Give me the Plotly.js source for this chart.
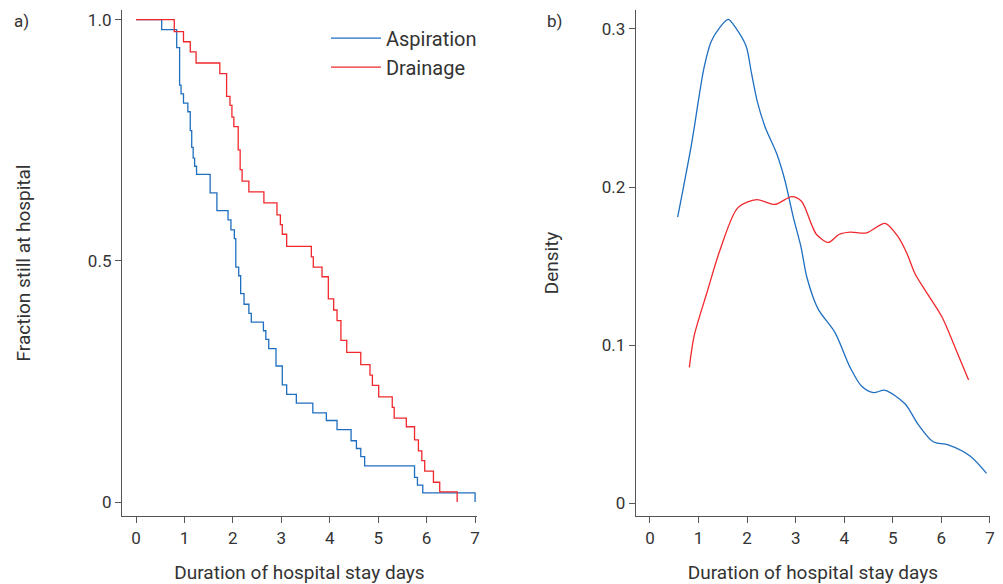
<!DOCTYPE html>
<html><head><meta charset="utf-8">
<script src="https://cdn.plot.ly/plotly-3.0.1.min.js"></script>
<style>body{margin:0}#c{width:1003px;height:584px}</style></head>
<body><div id="c"></div>
<script>
const aspTimes=[0,0.53,0.84,0.90,0.93,0.98,1.07,1.12,1.15,1.18,1.21,1.25,1.53,1.67,1.90,1.96,2.03,2.06,2.12,2.16,2.23,2.33,2.38,2.63,2.68,2.74,2.89,3.02,3.11,3.31,3.65,3.93,4.15,4.44,4.55,4.64,4.72,5.75,5.81,5.92,7.0];
const aspSurv=[1.0,0.979,0.942,0.864,0.846,0.827,0.809,0.770,0.735,0.713,0.696,0.679,0.641,0.604,0.585,0.564,0.546,0.487,0.469,0.432,0.410,0.391,0.373,0.355,0.337,0.318,0.282,0.243,0.223,0.205,0.185,0.169,0.150,0.127,0.111,0.094,0.075,0.051,0.035,0.019,0];
const drnTimes=[0,0.79,0.98,1.12,1.24,1.73,1.87,1.94,1.98,2.02,2.11,2.15,2.19,2.33,2.64,2.91,2.98,3.02,3.11,3.62,3.66,3.84,3.97,4.08,4.15,4.23,4.35,4.64,4.83,4.88,5.01,5.29,5.33,5.58,5.75,5.83,5.90,5.96,6.14,6.27,6.63];
const drnSurv=[1.0,0.975,0.954,0.933,0.910,0.888,0.841,0.822,0.798,0.778,0.730,0.689,0.665,0.643,0.620,0.595,0.575,0.555,0.530,0.508,0.487,0.467,0.421,0.398,0.376,0.335,0.310,0.285,0.263,0.242,0.218,0.196,0.174,0.156,0.129,0.106,0.086,0.064,0.041,0.021,0];
const aspDx=[0.57,0.86,1.11,1.26,1.44,1.61,1.78,1.98,2.09,2.21,2.37,2.61,2.78,2.95,3.11,3.23,3.46,3.81,4.12,4.36,4.60,4.84,5.25,5.52,5.83,6.14,6.59,6.93];
const aspDy=[0.181,0.228,0.275,0.292,0.301,0.306,0.300,0.289,0.272,0.254,0.238,0.221,0.204,0.181,0.162,0.143,0.123,0.108,0.086,0.074,0.070,0.0715,0.063,0.050,0.039,0.037,0.030,0.019];
const drnDx=[0.81,0.91,1.17,1.44,1.81,2.20,2.57,2.92,3.12,3.33,3.43,3.67,3.89,4.12,4.46,4.84,5.11,5.29,5.46,5.66,6.01,6.29,6.56];
const drnDy=[0.086,0.106,0.133,0.160,0.187,0.192,0.189,0.194,0.191,0.176,0.170,0.165,0.170,0.1715,0.171,0.177,0.1685,0.158,0.145,0.135,0.118,0.098,0.078];
const blue='#1f6fc0', red='#f0282d', F='Roboto, sans-serif';
const TF={family:F,size:19,color:'#333'};
const ax={showgrid:false,zeroline:false,showline:true,linecolor:'#555',linewidth:1.2,ticks:'outside',ticklen:6,tickcolor:'#555',tickfont:{family:F,size:17,color:'#333'}};
const traces=[
 {x:aspTimes,y:aspSurv,mode:'lines',line:{shape:'hv',color:blue,width:1.3},name:'Aspiration',xaxis:'x',yaxis:'y'},
 {x:drnTimes,y:drnSurv,mode:'lines',line:{shape:'hv',color:red,width:1.3},name:'Drainage',xaxis:'x',yaxis:'y'},
 {x:aspDx,y:aspDy,mode:'lines',line:{shape:'spline',smoothing:0.8,color:blue,width:1.3},showlegend:false,xaxis:'x2',yaxis:'y2'},
 {x:drnDx,y:drnDy,mode:'lines',line:{shape:'spline',smoothing:0.8,color:red,width:1.3},showlegend:false,xaxis:'x2',yaxis:'y2'}
];
const layout={width:1003,height:584,margin:{l:0,r:0,t:0,b:0},plot_bgcolor:'#fff',paper_bgcolor:'#fff',
 xaxis:Object.assign({},ax,{domain:[0.1216,0.4756],range:[-0.29,7.04],tickvals:[0,1,2,3,4,5,6,7],anchor:'y',title:{text:'Duration of hospital stay days',font:TF,standoff:20}}),
 yaxis:Object.assign({},ax,{domain:[0.1164,0.983],range:[-0.029,1.02],tickvals:[0,0.5,1],ticktext:['0','0.5','1.0'],anchor:'x',title:{text:'Fraction still at hospital',font:TF,standoff:52}}),
 xaxis2:Object.assign({},ax,{domain:[0.634,0.987],range:[-0.29,7.0],tickvals:[0,1,2,3,4,5,6,7],anchor:'y2',title:{text:'Duration of hospital stay days',font:TF,standoff:20}}),
 yaxis2:Object.assign({},ax,{domain:[0.1164,0.983],range:[-0.008,0.312],tickvals:[0,0.1,0.2,0.3],ticktext:['0','0.1','0.2','0.3'],anchor:'x2',title:{text:'Density',font:TF,standoff:38}}),
 legend:{x:0.325,y:0.968,xanchor:'left',yanchor:'top',itemwidth:50,font:{family:F,size:20,color:'#333'},bgcolor:'rgba(0,0,0,0)',tracegroupgap:0},
 annotations:[
  {text:'a)',x:0.012,y:0.985,xref:'paper',yref:'paper',xanchor:'left',yanchor:'top',showarrow:false,font:{family:F,size:17,color:'#333'}},
  {text:'b)',x:0.543,y:0.985,xref:'paper',yref:'paper',xanchor:'left',yanchor:'top',showarrow:false,font:{family:F,size:17,color:'#333'}}
 ]};
Plotly.newPlot('c',traces,layout,{displayModeBar:false});
</script></body></html>
